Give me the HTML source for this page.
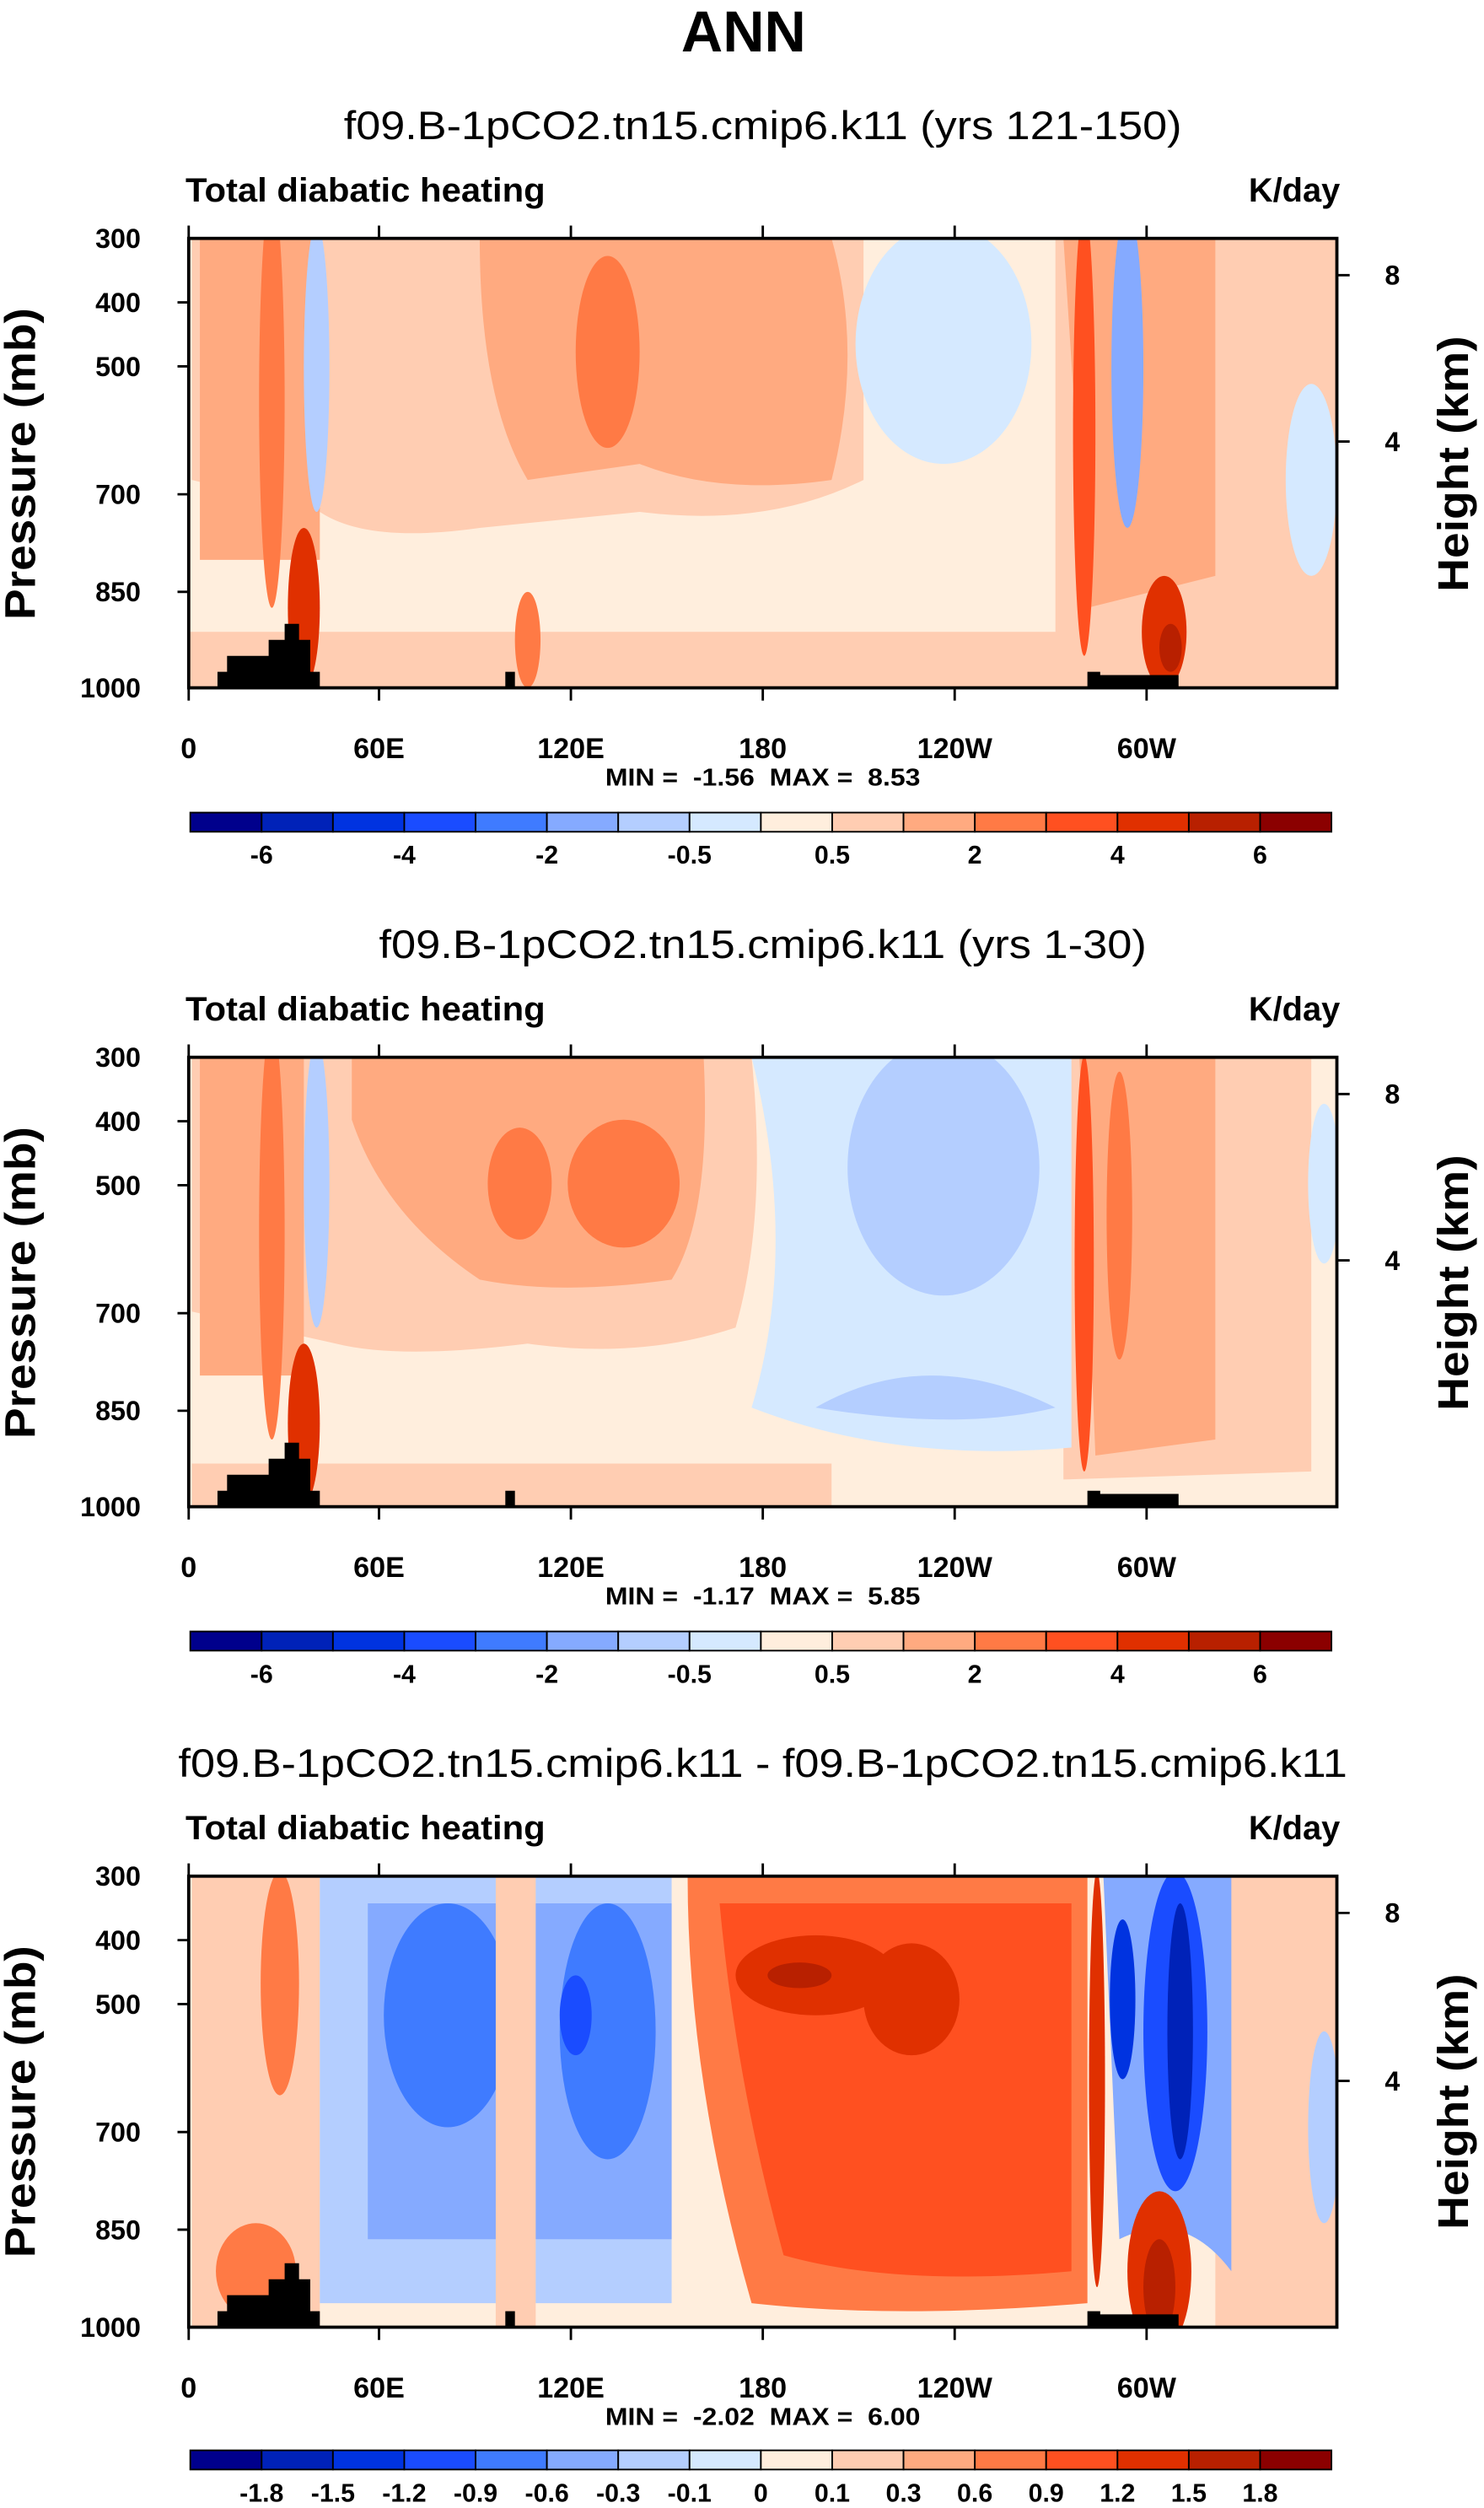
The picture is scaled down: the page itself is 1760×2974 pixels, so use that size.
<!DOCTYPE html>
<html><head><meta charset="utf-8"><style>html,body{margin:0;padding:0;background:#fff}svg{display:block}</style></head>
<body>
<svg width="1760" height="2974" viewBox="0 0 928 1568" xmlns="http://www.w3.org/2000/svg" font-family="Liberation Sans, sans-serif">
<defs>
<clipPath id="c1"><rect x="118" y="149" width="718" height="281"/></clipPath>
<clipPath id="c2"><rect x="118" y="661" width="718" height="281"/></clipPath>
<clipPath id="c3"><rect x="118" y="1173" width="718" height="282"/></clipPath>
</defs>
<rect width="928" height="1568" fill="#fff"/>
<text x="465" y="32" font-size="36" font-weight="bold" text-anchor="middle">ANN</text>

<!-- PANEL 1 -->
<text x="477" y="87" font-size="25" text-anchor="middle" textLength="524" lengthAdjust="spacingAndGlyphs">f09.B-1pCO2.tn15.cmip6.k11 (yrs 121-150)</text>
<g clip-path="url(#c1)">
<rect x="118" y="149" width="718" height="281" fill="#ffeedd"/>
<path d="M120 149 H540 V300 Q480 330 400 320 L300 330 Q230 340 200 320 L120 300Z" fill="#ffcdb2"/>
<path d="M660 149 H836 V400 L660 410Z" fill="#ffcdb2"/>
<rect x="118" y="395" width="718" height="35" fill="#ffcdb2"/>
<path d="M300 149 H520 Q540 220 520 300 Q450 310 400 290 L330 300 Q300 250 300 149Z" fill="#ffaa80"/>
<path d="M125 149 H200 V350 L125 350Z" fill="#ffaa80"/>
<path d="M665 149 H760 V360 L680 380Z" fill="#ffaa80"/>
<ellipse cx="590" cy="215" rx="55" ry="75" fill="#d5e9ff"/>
<ellipse cx="820" cy="300" rx="16" ry="60" fill="#d5e9ff"/>
<ellipse cx="198" cy="230" rx="8" ry="90" fill="#b4ceff"/>
<ellipse cx="705" cy="230" rx="10" ry="100" fill="#85aaff"/>
<ellipse cx="380" cy="220" rx="20" ry="60" fill="#ff7a45"/>
<ellipse cx="170" cy="250" rx="8" ry="130" fill="#ff7a45"/>
<ellipse cx="678" cy="270" rx="7" ry="140" fill="#ff5020"/>
<ellipse cx="190" cy="380" rx="10" ry="50" fill="#e03000"/>
<ellipse cx="728" cy="395" rx="14" ry="35" fill="#e03000"/>
<ellipse cx="732" cy="405" rx="7" ry="15" fill="#b82000"/>
<ellipse cx="330" cy="400" rx="8" ry="30" fill="#ff7a45"/>
</g>
<path d="M136 430 V420 H142 V410 H168 V400 H178 V390 H187 V400 H194 V420 H200 V430Z M316 430 V420 H322 V430Z M680 430 V420 H688 V422 H737 V430Z" fill="#000"/>

<!-- PANEL 2 -->
<text x="477" y="599" font-size="25" text-anchor="middle" textLength="480" lengthAdjust="spacingAndGlyphs">f09.B-1pCO2.tn15.cmip6.k11 (yrs 1-30)</text>
<g clip-path="url(#c2)">
<rect x="118" y="661" width="718" height="281" fill="#ffeedd"/>
<path d="M120 661 H470 Q480 760 460 830 Q400 850 330 840 Q250 850 210 840 L120 820Z" fill="#ffcdb2"/>
<path d="M665 661 H820 V920 L665 925Z" fill="#ffcdb2"/>
<path d="M120 915 H520 V942 H120Z" fill="#ffcdb2"/>
<path d="M220 661 H440 Q445 760 420 800 Q350 810 300 800 Q240 760 220 700Z" fill="#ffaa80"/>
<path d="M125 661 H190 V860 L125 860Z" fill="#ffaa80"/>
<path d="M675 661 H760 V900 L685 910Z" fill="#ffaa80"/>
<path d="M470 661 H670 V905 Q560 915 470 880 Q500 780 470 661Z" fill="#d5e9ff"/>
<ellipse cx="590" cy="730" rx="60" ry="80" fill="#b4ceff"/>
<path d="M510 880 Q580 840 660 880 Q600 895 510 880Z" fill="#b4ceff"/>
<ellipse cx="198" cy="740" rx="8" ry="90" fill="#b4ceff"/>
<ellipse cx="828" cy="740" rx="10" ry="50" fill="#d5e9ff"/>
<ellipse cx="390" cy="740" rx="35" ry="40" fill="#ff7a45"/>
<ellipse cx="325" cy="740" rx="20" ry="35" fill="#ff7a45"/>
<ellipse cx="170" cy="770" rx="8" ry="130" fill="#ff7a45"/>
<ellipse cx="678" cy="790" rx="6" ry="130" fill="#ff5020"/>
<ellipse cx="700" cy="760" rx="8" ry="90" fill="#ff7a45"/>
<ellipse cx="190" cy="890" rx="10" ry="50" fill="#e03000"/>
</g>
<path d="M136 942 V932 H142 V922 H168 V912 H178 V902 H187 V912 H194 V932 H200 V942Z M316 942 V932 H322 V942Z M680 942 V932 H688 V934 H737 V942Z" fill="#000"/>

<!-- PANEL 3 -->
<text x="477" y="1111" font-size="25" text-anchor="middle" textLength="731" lengthAdjust="spacingAndGlyphs">f09.B-1pCO2.tn15.cmip6.k11 - f09.B-1pCO2.tn15.cmip6.k11</text>
<g clip-path="url(#c3)">
<rect x="118" y="1173" width="718" height="282" fill="#ffeedd"/>
<rect x="760" y="1173" width="76" height="282" fill="#ffcdb2"/>
<path d="M120 1173 H200 V1455 H120Z" fill="#ffcdb2"/>
<path d="M200 1173 H420 V1440 H200Z" fill="#b4ceff"/>
<path d="M230 1190 H420 V1400 H230Z" fill="#85aaff"/>
<ellipse cx="280" cy="1260" rx="40" ry="70" fill="#3f7bff"/>
<ellipse cx="380" cy="1270" rx="30" ry="80" fill="#3f7bff"/>
<ellipse cx="360" cy="1260" rx="10" ry="25" fill="#1a4cff"/>
<rect x="310" y="1173" width="25" height="282" fill="#ffcdb2"/>
<path d="M430 1173 H680 V1440 Q560 1450 470 1440 Q430 1300 430 1173Z" fill="#ff7a45"/>
<path d="M450 1190 H670 V1420 Q560 1430 490 1410 Q460 1300 450 1190Z" fill="#ff5020"/>
<ellipse cx="510" cy="1235" rx="50" ry="25" fill="#e03000"/>
<ellipse cx="500" cy="1235" rx="20" ry="8" fill="#b82000"/>
<ellipse cx="570" cy="1250" rx="30" ry="35" fill="#e03000"/>
<path d="M690 1173 H770 V1420 Q740 1380 700 1400Z" fill="#85aaff"/>
<ellipse cx="735" cy="1270" rx="20" ry="100" fill="#1a4cff"/>
<ellipse cx="738" cy="1270" rx="8" ry="80" fill="#0022b8"/>
<ellipse cx="702" cy="1250" rx="8" ry="50" fill="#0033e0"/>
<ellipse cx="686" cy="1300" rx="5" ry="130" fill="#e03000"/>
<ellipse cx="725" cy="1420" rx="20" ry="50" fill="#e03000"/>
<ellipse cx="725" cy="1430" rx="10" ry="30" fill="#b82000"/>
<ellipse cx="175" cy="1240" rx="12" ry="70" fill="#ff7a45"/>
<ellipse cx="160" cy="1420" rx="25" ry="30" fill="#ff7a45"/>
<ellipse cx="828" cy="1330" rx="10" ry="60" fill="#b4ceff"/>
</g>
<path d="M136 1455 V1445 H142 V1435 H168 V1425 H178 V1415 H187 V1425 H194 V1445 H200 V1455Z M316 1455 V1445 H322 V1455Z M680 1455 V1445 H688 V1447 H737 V1455Z" fill="#000"/>

<g fill="none" stroke="#000" stroke-width="2">
<rect x="118" y="149" width="718" height="281"/>
<rect x="118" y="661" width="718" height="281"/>
<rect x="118" y="1173" width="718" height="282"/>
</g>
<g font-weight="bold" font-size="21">
<text x="116" y="126" textLength="225" lengthAdjust="spacingAndGlyphs">Total diabatic heating</text><text x="838" y="126" text-anchor="end">K/day</text>
<text x="116" y="638" textLength="225" lengthAdjust="spacingAndGlyphs">Total diabatic heating</text><text x="838" y="638" text-anchor="end">K/day</text>
<text x="116" y="1150" textLength="225" lengthAdjust="spacingAndGlyphs">Total diabatic heating</text><text x="838" y="1150" text-anchor="end">K/day</text>
</g>
<g font-size="17" font-weight="bold" text-anchor="end">
<text x="88" y="155">300</text><text x="88" y="195">400</text><text x="88" y="235">500</text><text x="88" y="315">700</text><text x="88" y="376">850</text><text x="88" y="436">1000</text>
<text x="88" y="667">300</text><text x="88" y="707">400</text><text x="88" y="747">500</text><text x="88" y="827">700</text><text x="88" y="888">850</text><text x="88" y="948">1000</text>
<text x="88" y="1179">300</text><text x="88" y="1219">400</text><text x="88" y="1259">500</text><text x="88" y="1339">700</text><text x="88" y="1400">850</text><text x="88" y="1461">1000</text>
</g>
<g font-size="17" font-weight="bold">
<text x="866" y="178">8</text><text x="866" y="282">4</text>
<text x="866" y="690">8</text><text x="866" y="794">4</text>
<text x="866" y="1202">8</text><text x="866" y="1307">4</text>
</g>
<g font-size="27" font-weight="bold" text-anchor="middle">
<text transform="translate(22,290) rotate(-90)" textLength="195" lengthAdjust="spacingAndGlyphs">Pressure (mb)</text>
<text transform="translate(918,290) rotate(-90)" textLength="160" lengthAdjust="spacingAndGlyphs">Height (km)</text>
<text transform="translate(22,802) rotate(-90)" textLength="195" lengthAdjust="spacingAndGlyphs">Pressure (mb)</text>
<text transform="translate(918,802) rotate(-90)" textLength="160" lengthAdjust="spacingAndGlyphs">Height (km)</text>
<text transform="translate(22,1314) rotate(-90)" textLength="195" lengthAdjust="spacingAndGlyphs">Pressure (mb)</text>
<text transform="translate(918,1314) rotate(-90)" textLength="160" lengthAdjust="spacingAndGlyphs">Height (km)</text>
</g>
<g stroke="#000" stroke-width="1.5">
<path d="M118 149v-8M237 149v-8M357 149v-8M477 149v-8M597 149v-8M717 149v-8M118 430v8M237 430v8M357 430v8M477 430v8M597 430v8M717 430v8M118 189h-7M118 229h-7M118 309h-7M118 370h-7M836 172h8M836 276h8"/>
<path d="M118 661v-8M237 661v-8M357 661v-8M477 661v-8M597 661v-8M717 661v-8M118 942v8M237 942v8M357 942v8M477 942v8M597 942v8M717 942v8M118 701h-7M118 741h-7M118 821h-7M118 882h-7M836 684h8M836 788h8"/>
<path d="M118 1173v-8M237 1173v-8M357 1173v-8M477 1173v-8M597 1173v-8M717 1173v-8M118 1455v8M237 1455v8M357 1455v8M477 1455v8M597 1455v8M717 1455v8M118 1213h-7M118 1253h-7M118 1333h-7M118 1394h-7M836 1196h8M836 1301h8"/>
</g>
<g font-size="18" font-weight="bold" text-anchor="middle">
<text x="118" y="474">0</text><text x="237" y="474">60E</text><text x="357" y="474">120E</text><text x="477" y="474">180</text><text x="597" y="474">120W</text><text x="717" y="474">60W</text>
<text x="118" y="986">0</text><text x="237" y="986">60E</text><text x="357" y="986">120E</text><text x="477" y="986">180</text><text x="597" y="986">120W</text><text x="717" y="986">60W</text>
<text x="118" y="1499">0</text><text x="237" y="1499">60E</text><text x="357" y="1499">120E</text><text x="477" y="1499">180</text><text x="597" y="1499">120W</text><text x="717" y="1499">60W</text>
</g>
<g font-size="15" font-weight="bold" text-anchor="middle">
<text x="477" y="491" textLength="197" lengthAdjust="spacingAndGlyphs" xml:space="preserve">MIN =  -1.56  MAX =  8.53</text>
<text x="477" y="1003" textLength="197" lengthAdjust="spacingAndGlyphs" xml:space="preserve">MIN =  -1.17  MAX =  5.85</text>
<text x="477" y="1516" textLength="197" lengthAdjust="spacingAndGlyphs" xml:space="preserve">MIN =  -2.02  MAX =  6.00</text>
</g>

<g stroke="#000" stroke-width="1">
<g id="cb">
<rect x="119" y="508" width="44.6" height="12" fill="#00008c"/>
<rect x="163.6" y="508" width="44.6" height="12" fill="#0022b8"/>
<rect x="208.2" y="508" width="44.6" height="12" fill="#0033e0"/>
<rect x="252.8" y="508" width="44.6" height="12" fill="#1a4cff"/>
<rect x="297.4" y="508" width="44.6" height="12" fill="#3f7bff"/>
<rect x="342" y="508" width="44.6" height="12" fill="#85aaff"/>
<rect x="386.6" y="508" width="44.6" height="12" fill="#b4ceff"/>
<rect x="431.2" y="508" width="44.6" height="12" fill="#d5e9ff"/>
<rect x="475.8" y="508" width="44.6" height="12" fill="#ffeedd"/>
<rect x="520.4" y="508" width="44.6" height="12" fill="#ffcdb2"/>
<rect x="565" y="508" width="44.6" height="12" fill="#ffaa80"/>
<rect x="609.6" y="508" width="44.6" height="12" fill="#ff7a45"/>
<rect x="654.2" y="508" width="44.6" height="12" fill="#ff5020"/>
<rect x="698.8" y="508" width="44.6" height="12" fill="#e03000"/>
<rect x="743.4" y="508" width="44.6" height="12" fill="#b82000"/>
<rect x="788" y="508" width="44.6" height="12" fill="#8b0000"/>
</g>
<use href="#cb" y="512"/>
<use href="#cb" y="1024"/>
</g>
<g font-size="16" font-weight="bold" text-anchor="middle">
<text x="163.6" y="540">-6</text><text x="252.8" y="540">-4</text><text x="342" y="540">-2</text><text x="431.2" y="540">-0.5</text><text x="520.4" y="540">0.5</text><text x="609.6" y="540">2</text><text x="698.8" y="540">4</text><text x="788" y="540">6</text>
<text x="163.6" y="1052">-6</text><text x="252.8" y="1052">-4</text><text x="342" y="1052">-2</text><text x="431.2" y="1052">-0.5</text><text x="520.4" y="1052">0.5</text><text x="609.6" y="1052">2</text><text x="698.8" y="1052">4</text><text x="788" y="1052">6</text>
<text x="163.6" y="1564">-1.8</text><text x="208.2" y="1564">-1.5</text><text x="252.8" y="1564">-1.2</text><text x="297.4" y="1564">-0.9</text><text x="342" y="1564">-0.6</text><text x="386.6" y="1564">-0.3</text><text x="431.2" y="1564">-0.1</text><text x="475.8" y="1564">0</text><text x="520.4" y="1564">0.1</text><text x="565" y="1564">0.3</text><text x="609.6" y="1564">0.6</text><text x="654.2" y="1564">0.9</text><text x="698.8" y="1564">1.2</text><text x="743.4" y="1564">1.5</text><text x="788" y="1564">1.8</text>
</g>
</svg>
</body></html>
